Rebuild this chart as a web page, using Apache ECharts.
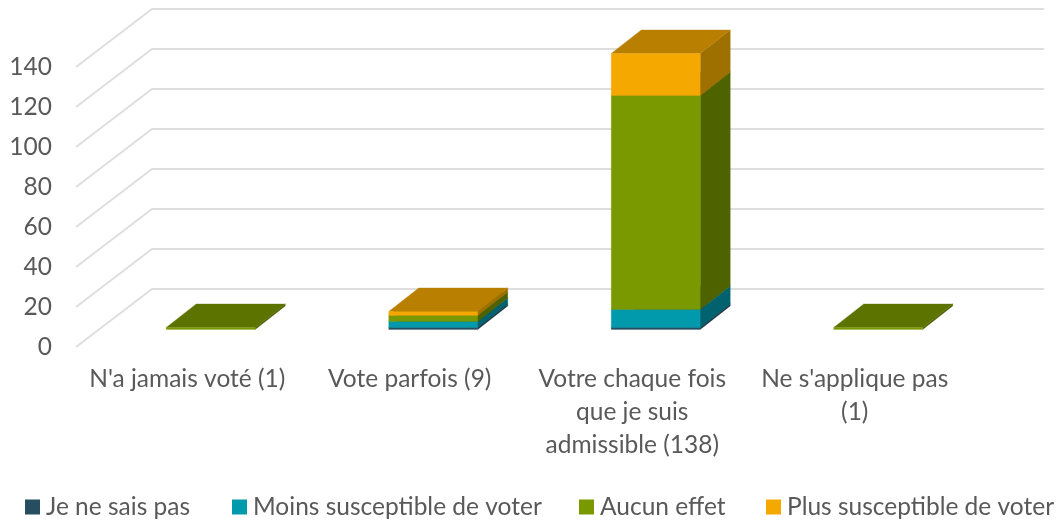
<!DOCTYPE html>
<html>
<head>
<meta charset="utf-8">
<style>html,body{margin:0;padding:0;background:#fff}#c{width:1058px;height:522px}</style>
<script src="https://cdn.jsdelivr.net/npm/echarts@6/dist/echarts.min.js"></script>
</head>
<body>
<div id="c"></div>
<script>
const categories = ["N'a jamais voté (1)", "Vote parfois (9)", "Votre chaque fois\nque je suis\nadmissible (138)", "Ne s'applique pas\n(1)"];
const yTicks = [0, 20, 40, 60, 80, 100, 120, 140];
const jeNeSaisPas = [0, 1, 1, 0];
const moinsSusceptible = [0, 3, 9, 0];
const aucunEffet = [1, 3, 107, 1];
const plusSusceptible = [0, 2, 21, 0];
const seriesNames = ["Je ne sais pas", "Moins susceptible de voter", "Aucun effet", "Plus susceptible de voter"];
const seriesValues = [jeNeSaisPas, moinsSusceptible, aucunEffet, plusSusceptible];
const faceColors = [
  {front:'#264E60', side:'#1A3746', top:'#1F4050'},
  {front:'#009AAC', side:'#00626F', top:'#007A88'},
  {front:'#7A9900', side:'#4E6200', top:'#5C7300'},
  {front:'#F5A800', side:'#9E7000', top:'#B97F00'}
];
const legendLeft = [20, 227, 574, 761];
const FONT = 'Lato, "Open Sans", sans-serif';
const TEXT = '#595959';
const WALL = {dx:76, dy:-58, extra:2};
const BAR = {dx:30, dy:-23.5, ox:23.5, oy:-17.6};

const base = categories.map(() => 0);
const barSeries = seriesNames.map((name, s) => {
  const data = seriesValues[s].map((v, i) => {
    const item = [i, base[i], base[i] + v];
    base[i] += v;
    return item;
  });
  const c = faceColors[s];
  return {
    type: 'custom', name, z: 3 + s, clip: false,
    itemStyle: {color: c.front},
    encode: {x: 0, y: [1, 2]},
    data,
    renderItem(params, api) {
      const lo = api.value(1), hi = api.value(2);
      if (hi <= lo) return null;
      const a = api.coord([api.value(0), lo]);
      const b = api.coord([api.value(0), hi]);
      const hw = api.size([1, 0])[0] * 0.2;
      const x0 = a[0] + BAR.ox - hw, x1 = a[0] + BAR.ox + hw;
      const y0 = a[1] + BAR.oy, y1 = b[1] + BAR.oy;
      const dx = BAR.dx, dy = BAR.dy;
      const poly = (pts, fill) => ({type:'polygon', shape:{points:pts}, style:{fill, stroke:fill, lineWidth:0.3}});
      return {type:'group', children:[
        poly([[x1,y0],[x1+dx,y0+dy],[x1+dx,y1+dy],[x1,y1]], c.side),
        poly([[x0,y1],[x1,y1],[x1+dx,y1+dy],[x0+dx,y1+dy]], c.top),
        poly([[x0,y0],[x1,y0],[x1,y1],[x0,y1]], c.front)
      ]};
    }
  };
});

const gridSeries = {
  type: 'custom', name: 'walls', z: 1, silent: true, clip: false,
  encode: {y: 0},
  data: yTicks.map(v => [v]),
  renderItem(params, api) {
    const r = params.coordSys;
    const y = api.coord([0, api.value(0)])[1];
    return {type:'polyline', shape:{points:[[r.x, y],[r.x+WALL.dx, y+WALL.dy],[r.x+r.width+WALL.dx+WALL.extra, y+WALL.dy]]},
      style:{fill:null, stroke:'#DEDEDE', lineWidth:2}};
  }
};

const chart = echarts.init(document.getElementById('c'), null, {renderer:'canvas'});
chart.setOption({
  animation: false,
  backgroundColor: '#fff',
  grid: {left:76, top:67, width:890, height:280, containLabel:false},
  xAxis: {
    type:'category', data:categories,
    axisLine:{show:false}, axisTick:{show:false}, splitLine:{show:false},
    axisLabel:{interval:0, color:TEXT, fontFamily:FONT, fontSize:24.5, lineHeight:33, margin:16, hideOverlap:false}
  },
  yAxis: {
    type:'value', min:0, max:140, interval:20,
    axisLine:{show:false}, axisTick:{show:false}, splitLine:{show:false},
    axisLabel:{color:TEXT, fontFamily:FONT, fontSize:24.5, margin:24, padding:[0,0,4,0]}
  },
  legend: seriesNames.map((n, i) => ({
    data:[{name:n, icon:'rect'}], left:legendLeft[i], top:489.5, itemWidth:15, itemHeight:15, itemGap:0,
    selectedMode:false, textStyle:{color:TEXT, fontFamily:FONT, fontSize:24.5, padding:[0,0,0,1]}
  })),
  series: [gridSeries, ...barSeries]
});
</script>
</body>
</html>
